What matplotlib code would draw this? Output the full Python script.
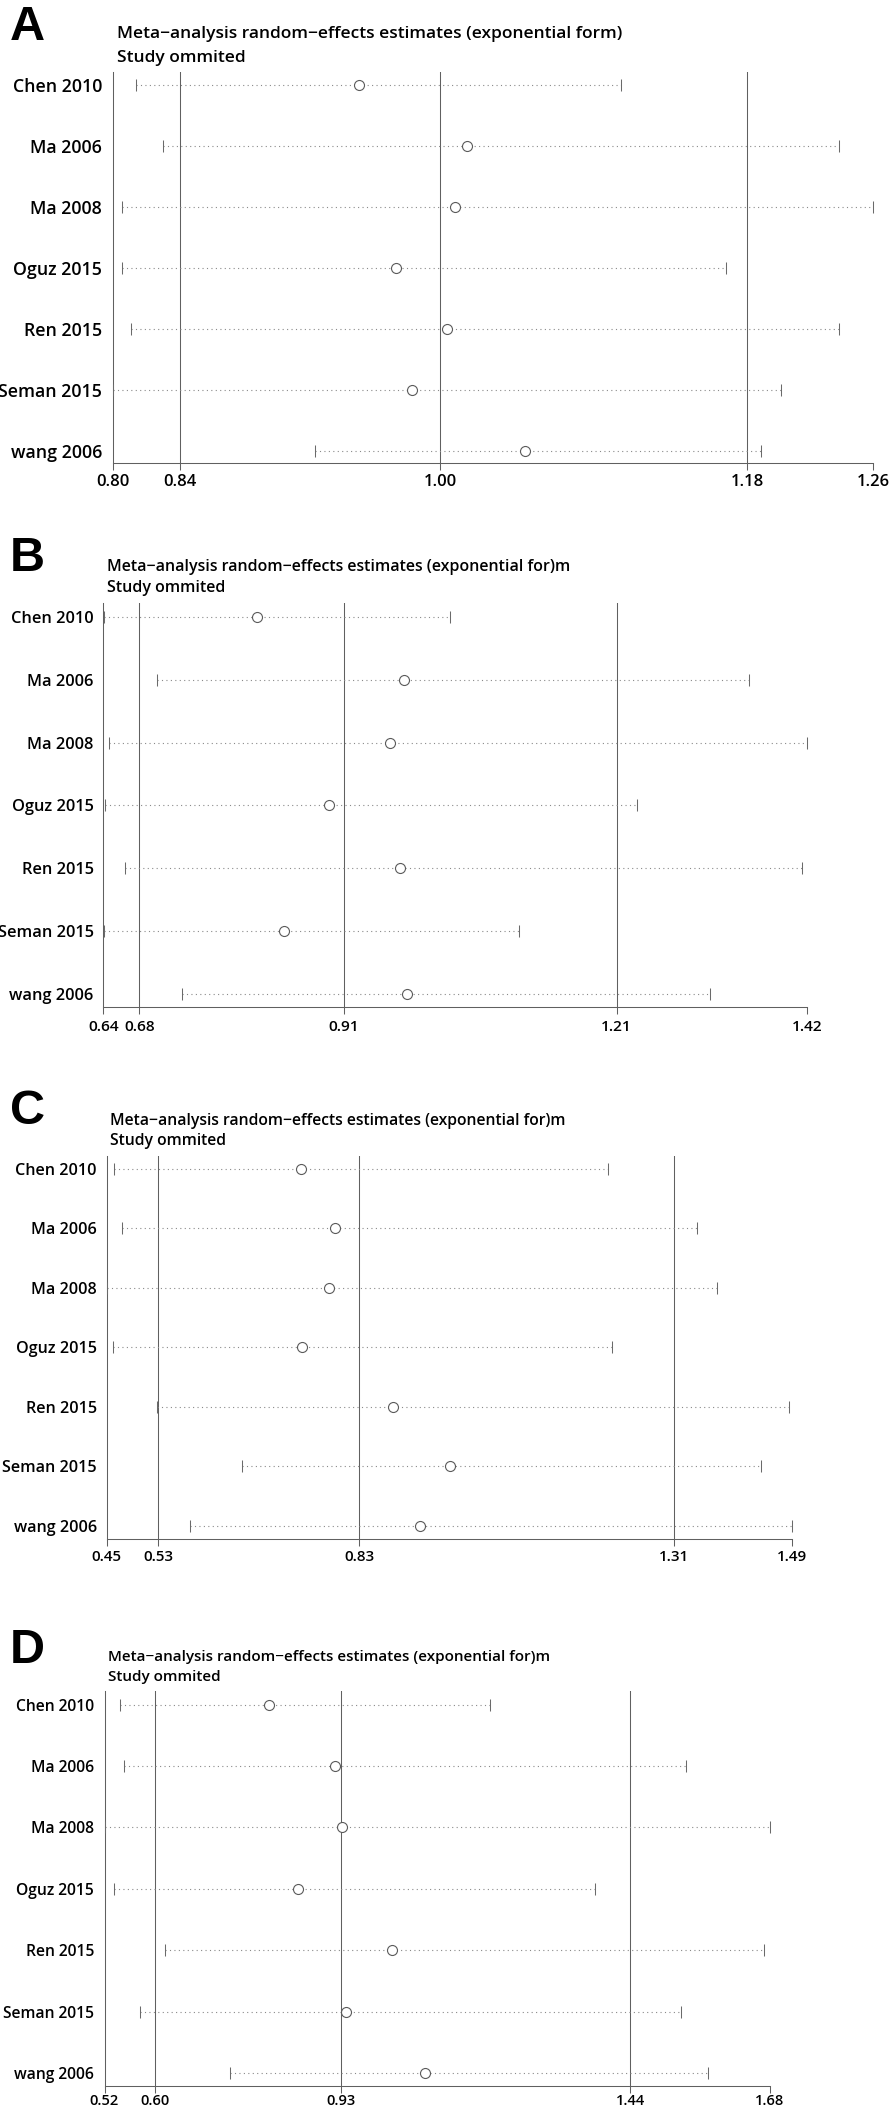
import matplotlib
matplotlib.use("Agg")
import matplotlib.pyplot as plt
from matplotlib.transforms import ScaledTranslation, blended_transform_factory

plt.rcParams['font.family'] = ['Open Sans', 'DejaVu Sans']

studies = ["Chen 2010", "Ma 2006", "Ma 2008", "Oguz 2015", "Ren 2015", "Seman 2015", "wang 2006"]

# Panel A
a_lower = [0.814, 0.830, 0.805, 0.805, 0.811, 0.800, 0.922]
a_est = [0.949, 1.014, 1.007, 0.971, 1.002, 0.981, 1.049]
a_upper = [1.107, 1.239, 1.260, 1.171, 1.239, 1.204, 1.192]
a_overall = [0.8405, 0.9977, 1.1836]
a_range = [0.80, 1.26]
a_ticklabels = ["0.80", "0.84", "1.00", "1.18", "1.26"]

# Panel B
b_lower = [0.641, 0.699, 0.646, 0.642, 0.664, 0.641, 0.727]
b_est = [0.810, 0.973, 0.958, 0.890, 0.969, 0.840, 0.977]
b_upper = [1.024, 1.356, 1.420, 1.232, 1.414, 1.101, 1.313]
b_overall = [0.680, 0.907, 1.209]
b_range = [0.64, 1.42]
b_ticklabels = ["0.64", "0.68", "0.91", "1.21", "1.42"]

# Panel C
c_lower = [0.461, 0.473, 0.450, 0.460, 0.527, 0.655, 0.576]
c_est = [0.745, 0.797, 0.787, 0.747, 0.885, 0.971, 0.926]
c_upper = [1.210, 1.345, 1.376, 1.216, 1.485, 1.442, 1.490]
c_overall = [0.528, 0.833, 1.311]
c_range = [0.45, 1.49]
c_ticklabels = ["0.45", "0.53", "0.83", "1.31", "1.49"]

# Panel D
d_lower = [0.543, 0.550, 0.515, 0.532, 0.622, 0.577, 0.736]
d_est = [0.805, 0.920, 0.932, 0.855, 1.020, 0.939, 1.078]
d_upper = [1.193, 1.538, 1.685, 1.378, 1.675, 1.529, 1.577]
d_overall = [0.603, 0.931, 1.440]
d_range = [0.515, 1.685]
d_ticklabels = ["0.52", "0.60", "0.93", "1.44", "1.68"]

title1_a = "Meta\u2212analysis random\u2212effects estimates (exponential form)"
title1_other = "Meta\u2212analysis random\u2212effects estimates (exponential for)m"
title2 = "Study ommited"

W, H = 894, 2109
fig = plt.figure(figsize=(W / 100, H / 100), dpi=100)
fig.patch.set_facecolor("white")

LINE = "#606060"
# layout per panel: (label, title, data..., axes box px (l, r, t, b), label top px,
#                    text scale, ylabel pad pt, title offsets px, ticklabel baseline offset px)
panels = [
    ("A", title1_a, a_lower, a_est, a_upper, a_overall, a_range, a_ticklabels,
     (113.3, 873.3, 71.7, 463.3), 5, 1.00, 8.0, (33.7, 10.0), 22.7),
    ("B", title1_other, b_lower, b_est, b_upper, b_overall, b_range, b_ticklabels,
     (103.3, 807.0, 602.9, 1007.3), 536, 0.925, 7.0, (31.5, 11.0), 24.0),
    ("C", title1_other, c_lower, c_est, c_upper, c_overall, c_range, c_ticklabels,
     (106.7, 792.2, 1155.5, 1538.5), 1089, 0.905, 7.0, (30.5, 10.5), 22.5),
    ("D", title1_other, d_lower, d_est, d_upper, d_overall, d_range, d_ticklabels,
     (104.5, 769.7, 1691.0, 2086.0), 1628, 0.88, 7.4, (30.5, 10.0), 19.3),
]

for (label, t1, lo, est, hi, overall, rng, tlabels, box, label_top,
     s, ypad, toff, tickoff) in panels:
    left, right, top, bottom = box
    ax = fig.add_axes([left / W, (H - bottom) / H, (right - left) / W, (bottom - top) / H])
    n = len(studies)
    ys = list(range(n))
    for v in overall:
        ax.axvline(v, color=LINE, lw=0.75, zorder=1)
    ax.hlines(ys, lo, hi, colors="#8a8a8a", linestyles=(0, (1, 3)), lw=0.8, zorder=2)
    ax.plot(lo, ys, linestyle="none", marker="|", markersize=8.5, mew=0.75, color="#6a6a6a", zorder=3, clip_on=False)
    ax.plot(hi, ys, linestyle="none", marker="|", markersize=8.5, mew=0.75, color="#6a6a6a", zorder=3, clip_on=False)
    ax.plot(est, ys, linestyle="none", marker="o", markersize=7.2, mfc="white", mec="#5a5a5a", mew=0.8, zorder=4)
    ax.set_xlim(rng[0], rng[1])
    ax.set_ylim(n - 1 + 0.21, -0.22)
    ax.set_yticks(ys)
    ax.set_yticklabels(studies, fontsize=12.8 * s, fontweight="semibold")
    ax.tick_params(axis="y", length=0, pad=ypad)
    ticks = [rng[0]] + list(overall) + [rng[1]]
    ax.set_xticks(ticks)
    ax.set_xticklabels([])
    ax.tick_params(axis="x", direction="out", length=5.2, width=0.75, color=LINE)
    trans = blended_transform_factory(ax.transData, ax.transAxes) + \
        ScaledTranslation(0, -tickoff / 100, fig.dpi_scale_trans)
    for xv, lbl in zip(ticks, tlabels):
        ax.text(xv, 0, lbl, transform=trans, ha="center", va="baseline",
                fontsize=12.0 * s, fontweight="semibold")
    for sp in ["top", "right"]:
        ax.spines[sp].set_visible(False)
    for sp in ["left", "bottom"]:
        ax.spines[sp].set_color(LINE)
        ax.spines[sp].set_linewidth(0.75)
    # titles
    fig.text((left + 3.5) / W, (H - (top - toff[0])) / H, t1, fontsize=12.5 * s,
             fontweight="semibold", ha="left", va="baseline")
    fig.text((left + 3.5) / W, (H - (top - toff[1])) / H, title2, fontsize=12.5 * s,
             fontweight="semibold", ha="left", va="baseline")
    fig.text(10 / W, (H - label_top) / H, label, fontsize=35, fontweight="bold",
             family=["Liberation Sans", "DejaVu Sans"], ha="left", va="top")

fig.savefig("out.png", dpi=100, facecolor="white")
